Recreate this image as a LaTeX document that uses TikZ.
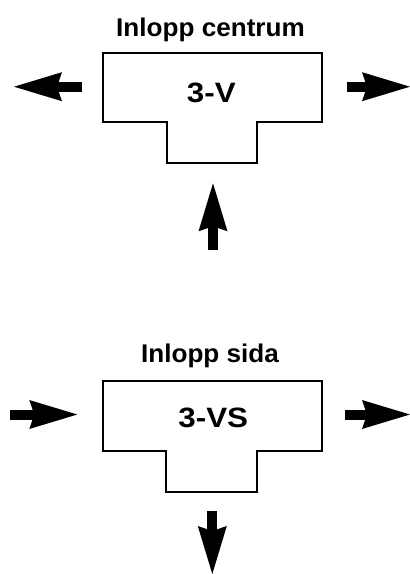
\documentclass[tikz,border=0pt]{standalone}
\usepackage{fontspec}
\setmainfont{Liberation Sans}
\newfontfamily\titlefont[FakeStretch=1.02]{Liberation Sans}
\newfontfamily\tagfont[FakeStretch=1.12]{Liberation Sans}
\usetikzlibrary{arrows.meta}

\begin{document}
\begin{tikzpicture}[x=0.5pt,y=-0.5pt,
	title/.style={anchor=base,inner sep=0pt,font=\titlefont\bfseries\fontsize{12.8}{15}\selectfont},
	tag/.style={anchor=base,inner sep=0pt,font=\tagfont\bfseries\fontsize{14}{17}\selectfont},
	tee/.style={line width=1.15pt,line join=miter},
	flow/.style={line width=5pt,-{Stealth[length=24pt,width=14.5pt,inset=2.5pt,line width=0pt]}}]
	\useasboundingbox (0,0) rectangle (410,574);

	\draw [tee] (103,53) -- (322,53) -- (322,122) -- (257,122) -- (257,163) -- (167,163) -- (167,122) -- (103,122) -- cycle;
	\draw [tee] (103,381) -- (322,381) -- (322,451) -- (257,451) -- (257,492) -- (166,492) -- (166,451) -- (103,451) -- cycle;

	\node [title] (centrum) at (210.5,36.7) {Inlopp centrum};
	\node [title] (sida) at (210,362) {Inlopp sida};
	\node [tag] (v) at (211.3,102.3) {3-V};
	\node [tag] (vs) at (213.3,427) {3-VS};

	\coordinate (vwest) at (82,86.7);
	\coordinate (vwestout) at (14,86.7);
	\coordinate (veast) at (347,86.7);
	\coordinate (veastout) at (410,86.7);
	\coordinate (vin) at (213,250);
	\coordinate (vsouth) at (213,183.3);

	\coordinate (vsin) at (10,414.5);
	\coordinate (vswest) at (77.3,414.5);
	\coordinate (vseast) at (345,414.5);
	\coordinate (vseastout) at (410,414.5);
	\coordinate (vssouth) at (212.3,511);
	\coordinate (vsout) at (212.3,574);

	\draw [flow] (vwest) -- (vwestout);
	\draw [flow] (veast) -- (veastout);
	\draw [flow] (vin) -- (vsouth);
	\draw [flow] (vsin) -- (vswest);
	\draw [flow] (vseast) -- (vseastout);
	\draw [flow] (vssouth) -- (vsout);
\end{tikzpicture}
\end{document}
